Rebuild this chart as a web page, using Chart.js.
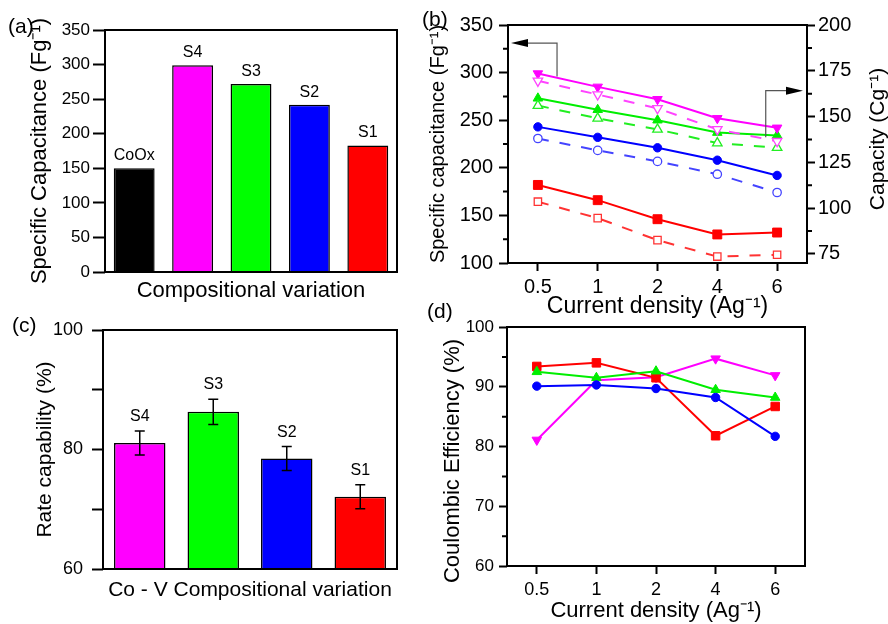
<!DOCTYPE html>
<html>
<head>
<meta charset="utf-8">
<title>Capacitance panels</title>
<script src="https://cdn.jsdelivr.net/npm/chart.js@4.4.1/dist/chart.umd.min.js"></script>
<style>
  html, body { margin: 0; padding: 0; background: #fff; }
  #wrap { position: relative; width: 888px; height: 624px; overflow: hidden; }
  #wrap canvas { position: absolute; left: 0; top: 0; }
  .tag { position: absolute; font: 21px/21px "Liberation Sans", Arial, sans-serif; color: #000; }
</style>
</head>
<body>
<div id="wrap">
  <canvas id="chartA" width="888" height="624"></canvas>
  <canvas id="chartB" width="888" height="624"></canvas>
  <canvas id="chartC" width="888" height="624"></canvas>
  <canvas id="chartD" width="888" height="624"></canvas>
  <div class="tag" style="left:8px;top:15px">(a)</div>
  <div class="tag" style="left:422px;top:8px">(b)</div>
  <div class="tag" style="left:12px;top:314px">(c)</div>
  <div class="tag" style="left:427px;top:300px">(d)</div>
</div>
<script>
const FONT = '"Liberation Sans", Arial, Helvetica, sans-serif';

// (a) specific capacitance per composition
const samplesA = ['CoOx', 'S4', 'S3', 'S2', 'S1'];
const capacitanceA = [150, 299, 272, 242, 183];
const coloursA = ['#000000', '#ff00ff', '#00ff00', '#0000ff', '#ff0000'];

// (b) specific capacitance (left axis) and capacity (right axis) vs current density
const currents = ['0.5', '1', '2', '4', '6'];
const specCapS4 = [299, 285, 272, 252, 242];
const specCapS3 = [273, 261, 250, 237, 234];
const specCapS2 = [243, 232, 221, 208, 192];
const specCapS1 = [182, 166, 146, 130, 132];
const capacityS4 = [169.5, 162, 154.5, 143, 136.5];
const capacityS3 = [156, 149, 143, 135.5, 133];
const capacityS2 = [138, 131.5, 125.5, 118.5, 108.5];
const capacityS1 = [103.5, 94.5, 82.5, 73.5, 74.5];
const capacityTicks = [75, 100, 125, 150, 175, 200];

// (c) rate capability
const samplesC = ['S4', 'S3', 'S2', 'S1'];
const rateC = [81.1, 86.3, 78.5, 72.1];
const rateErrC = [2, 2.1, 2, 2];
const coloursC = ['#ff00ff', '#00ff00', '#0000ff', '#ff0000'];

// (d) coulombic efficiency
const ceS1 = [93.4, 94.0, 91.5, 81.8, 86.7];
const ceS3 = [92.5, 91.5, 92.6, 89.5, 88.2];
const ceS2 = [90.1, 90.3, 89.7, 88.2, 81.7];
const ceS4 = [81.1, 91.1, 91.6, 94.7, 91.9];

Chart.defaults.font.family = FONT;
Chart.defaults.color = '#000';
Chart.defaults.animation = false;
Chart.defaults.plugins.legend.display = false;
Chart.defaults.plugins.tooltip.enabled = false;

// box round the plot area
const frame = {
  id: 'frame',
  afterDraw(chart) {
    const { ctx, chartArea: a } = chart;
    ctx.save();
    ctx.strokeStyle = '#000';
    ctx.lineWidth = 2;
    ctx.strokeRect(a.left, a.top, a.right - a.left, a.bottom - a.top);
    ctx.restore();
  }
};

// short ticks half way between the labelled ones
const minorTicks = {
  id: 'minorTicks',
  afterDraw(chart, args, opts) {
    const { ctx } = chart;
    ctx.save();
    ctx.strokeStyle = '#000';
    ctx.lineWidth = 2;
    ctx.beginPath();
    (opts.axes || []).forEach((id) => {
      const s = chart.scales[id];
      const vals = s.ticks.map((t) => t.value);
      for (let i = 0; i < vals.length - 1; i++) {
        const y = s.getPixelForValue((vals[i] + vals[i + 1]) / 2);
        const x0 = s.position === 'left' ? s.right : s.left;
        ctx.moveTo(x0, y);
        ctx.lineTo(s.position === 'left' ? x0 - opts.len : x0 + opts.len, y);
      }
    });
    ctx.stroke();
    ctx.restore();
  }
};

// sample names above the bars
const barLabels = {
  id: 'barLabels',
  afterDatasetsDraw(chart, args, opts) {
    const { ctx } = chart;
    const ys = chart.scales.y;
    const ds = chart.data.datasets[0];
    ctx.save();
    ctx.font = `${opts.size}px ${FONT}`;
    ctx.fillStyle = '#000';
    ctx.textAlign = 'center';
    ctx.textBaseline = 'alphabetic';
    chart.getDatasetMeta(0).data.forEach((bar, i) => {
      const top = ds.errors ? ys.getPixelForValue(ds.data[i] + ds.errors[i]) : bar.y;
      ctx.fillText(chart.data.labels[i], bar.x, top - opts.gap);
    });
    ctx.restore();
  }
};

const errorBars = {
  id: 'errorBars',
  afterDatasetsDraw(chart) {
    const { ctx } = chart;
    const ys = chart.scales.y;
    const ds = chart.data.datasets[0];
    ctx.save();
    ctx.strokeStyle = '#000';
    ctx.lineWidth = 1.5;
    ctx.beginPath();
    chart.getDatasetMeta(0).data.forEach((bar, i) => {
      const lo = ys.getPixelForValue(ds.data[i] - ds.errors[i]);
      const hi = ys.getPixelForValue(ds.data[i] + ds.errors[i]);
      ctx.moveTo(bar.x, lo); ctx.lineTo(bar.x, hi);
      ctx.moveTo(bar.x - 5, lo); ctx.lineTo(bar.x + 5, lo);
      ctx.moveTo(bar.x - 5, hi); ctx.lineTo(bar.x + 5, hi);
    });
    ctx.stroke();
    ctx.restore();
  }
};

// rotated titles that the axis title option can't place
const sideTitles = {
  id: 'sideTitles',
  afterDraw(chart, args, opts) {
    const { ctx } = chart;
    (opts.items || []).forEach((t) => {
      ctx.save();
      ctx.translate(t.x, t.y);
      ctx.rotate(-Math.PI / 2);
      ctx.font = `${t.size}px ${FONT}`;
      ctx.fillStyle = '#000';
      ctx.textAlign = 'center';
      ctx.textBaseline = 'middle';
      ctx.fillText(t.text, 0, 0);
      ctx.restore();
    });
  }
};

// the two "which axis" arrows in (b)
const axisArrows = {
  id: 'axisArrows',
  afterDatasetsDraw(chart) {
    const { ctx, chartArea: a, scales: { x, y } } = chart;
    const draw = (xi, from, to, dir) => {
      const px = x.getPixelForValue(xi);
      const y0 = y.getPixelForValue(from);
      const y1 = y.getPixelForValue(to);
      const tip = dir < 0 ? a.left + 3 : a.right - 4;
      const base = tip - dir * 17;
      ctx.strokeStyle = '#555';
      ctx.lineWidth = 1.2;
      ctx.beginPath();
      ctx.moveTo(px, y0); ctx.lineTo(px, y1); ctx.lineTo(base, y1);
      ctx.stroke();
      ctx.fillStyle = '#000';
      ctx.beginPath();
      ctx.moveTo(tip, y1); ctx.lineTo(base, y1 - 4); ctx.lineTo(base, y1 + 4);
      ctx.closePath();
      ctx.fill();
    };
    ctx.save();
    draw(0.32, 296, 331, -1);
    draw(3.81, 232, 281, 1);
    ctx.restore();
  }
};

const tickGrid = (len) => ({ drawOnChartArea: false, tickLength: len, tickWidth: 2, color: '#000' });

// (a)
new Chart(document.getElementById('chartA'), {
  type: 'bar',
  data: {
    labels: samplesA,
    datasets: [{
      data: capacitanceA,
      backgroundColor: coloursA,
      borderColor: '#000',
      borderWidth: 1.5,
      categoryPercentage: 1,
      barPercentage: 0.7
    }]
  },
  options: {
    responsive: false,
    layout: { padding: { left: 0, top: 30, right: 491, bottom: 312 } },
    scales: {
      x: {
        grid: { display: false, drawTicks: false },
        ticks: { display: false },
        border: { display: false },
        title: { display: true, text: 'Compositional variation', font: { size: 22 }, padding: { top: 0, bottom: 8 } },
        afterFit: (s) => { s.height = 40; }
      },
      y: {
        min: 0, max: 350, beginAtZero: true,
        ticks: { stepSize: 50, font: { size: 17 }, padding: 3 },
        grid: tickGrid(12),
        border: { display: false },
        title: { display: true, text: 'Specific Capacitance (Fg\u207B\u00B9)', font: { size: 22 }, padding: { top: 27, bottom: 0 } },
        afterFit: (s) => { s.width = 105; }
      }
    },
    plugins: { barLabels: { size: 16, gap: 8 } }
  },
  plugins: [frame, barLabels]
});

// (b)
const lineSet = (data, colour, style, rot, radius, axis, open) => ({
  data,
  yAxisID: axis,
  borderColor: colour,
  borderWidth: 2,
  borderDash: open ? [11, 11] : [],
  pointStyle: style,
  rotation: rot,
  pointRadius: radius,
  pointBorderWidth: open ? 1.3 : 1,
  pointBorderColor: colour,
  pointBackgroundColor: open ? '#ffffff' : colour
});

new Chart(document.getElementById('chartB'), {
  type: 'line',
  data: {
    labels: currents,
    datasets: [
      lineSet(capacityS4, '#ff44ff', 'triangle', 180, 5.5, 'y2', true),
      lineSet(capacityS3, '#22ee22', 'triangle', 0, 5.5, 'y2', true),
      lineSet(capacityS2, '#4444ff', 'circle', 0, 4.2, 'y2', true),
      lineSet(capacityS1, '#ff3333', 'rect', 0, 5.2, 'y2', true),
      lineSet(specCapS4, '#ff00ff', 'triangle', 180, 5.5, 'y', false),
      lineSet(specCapS3, '#00ee00', 'triangle', 0, 5.5, 'y', false),
      lineSet(specCapS2, '#0000ff', 'circle', 0, 4.2, 'y', false),
      lineSet(specCapS1, '#ff0000', 'rect', 0, 6.3, 'y', false)
    ]
  },
  options: {
    responsive: false,
    layout: { padding: { left: 420, top: 25, right: 0, bottom: 301 } },
    scales: {
      x: {
        offset: true,
        grid: tickGrid(8),
        border: { display: false },
        ticks: { font: { size: 20 }, padding: 4, maxRotation: 0 },
        title: { display: true, text: 'Current density (Ag\u207B\u00B9)', font: { size: 23 }, padding: { top: 0, bottom: 3 } },
        afterFit: (s) => { s.height = 60; }
      },
      y: {
        position: 'left',
        min: 100, max: 350,
        ticks: { stepSize: 50, font: { size: 20 }, padding: 6 },
        grid: tickGrid(9),
        border: { display: false },
        title: { display: true, text: 'Specific capacitance (Fg\u207B\u00B9)', font: { size: 20 }, padding: { top: 6, bottom: 0 } },
        afterFit: (s) => { s.width = 88; }
      },
      y2: {
        position: 'right',
        min: 70, max: 200,
        afterBuildTicks: (s) => { s.ticks = capacityTicks.map((v) => ({ value: v })); },
        ticks: { font: { size: 20 }, padding: 3 },
        grid: tickGrid(8),
        border: { display: false },
        afterFit: (s) => { s.width = 81; }
      }
    },
    plugins: {
      minorTicks: { axes: ['y', 'y2'], len: 5 },
      sideTitles: { items: [{ text: 'Capacity (Cg\u207B\u00B9)', x: 878, y: 139, size: 21 }] }
    }
  },
  plugins: [frame, minorTicks, sideTitles, axisArrows]
});

// (c)
new Chart(document.getElementById('chartC'), {
  type: 'bar',
  data: {
    labels: samplesC,
    datasets: [{
      data: rateC,
      errors: rateErrC,
      backgroundColor: coloursC,
      borderColor: '#000',
      borderWidth: 1.5,
      categoryPercentage: 1,
      barPercentage: 0.7
    }]
  },
  options: {
    responsive: false,
    layout: { padding: { left: 0, top: 330, right: 491, bottom: 15 } },
    scales: {
      x: {
        grid: { display: false, drawTicks: false },
        ticks: { display: false },
        border: { display: false },
        title: { display: true, text: 'Co - V Compositional variation', font: { size: 21 }, padding: { top: 0, bottom: 6 } },
        afterFit: (s) => { s.height = 40; }
      },
      y: {
        min: 60, max: 100, beginAtZero: false,
        ticks: { stepSize: 10, font: { size: 18 }, padding: 9, callback: (v) => (v % 20 === 0 ? v : '') },
        grid: tickGrid(11),
        border: { display: false },
        title: { display: true, text: 'Rate capability (%)', font: { size: 21 }, padding: { top: 33, bottom: 0 } },
        afterFit: (s) => { s.width = 103; }
      }
    },
    plugins: { barLabels: { size: 16, gap: 10 } }
  },
  plugins: [frame, errorBars, barLabels]
});

// (d)
new Chart(document.getElementById('chartD'), {
  type: 'line',
  data: {
    labels: currents,
    datasets: [
      lineSet(ceS2, '#0000ff', 'circle', 0, 4.2, 'y', false),
      lineSet(ceS3, '#00ee00', 'triangle', 0, 5.5, 'y', false),
      lineSet(ceS1, '#ff0000', 'rect', 0, 6, 'y', false),
      lineSet(ceS4, '#ff00ff', 'triangle', 180, 5.5, 'y', false)
    ]
  },
  options: {
    responsive: false,
    layout: { padding: { left: 420, top: 327, right: 83, bottom: 0 } },
    scales: {
      x: {
        offset: true,
        grid: tickGrid(8),
        border: { display: false },
        ticks: { font: { size: 18 }, padding: 5, maxRotation: 0 },
        title: { display: true, text: 'Current density (Ag\u207B\u00B9)', font: { size: 22 }, padding: { top: 0, bottom: 0 } },
        afterFit: (s) => { s.height = 58; }
      },
      y: {
        min: 60, max: 100,
        ticks: { stepSize: 10, font: { size: 17 }, padding: 5 },
        grid: tickGrid(8),
        border: { display: false },
        afterFit: (s) => { s.width = 87; }
      }
    },
    plugins: {
      minorTicks: { axes: ['y'], len: 5 },
      sideTitles: { items: [{ text: 'Coulombic Efficiency (%)', x: 453, y: 461, size: 22 }] }
    }
  },
  plugins: [frame, minorTicks, sideTitles]
});
</script>
</body>
</html>
